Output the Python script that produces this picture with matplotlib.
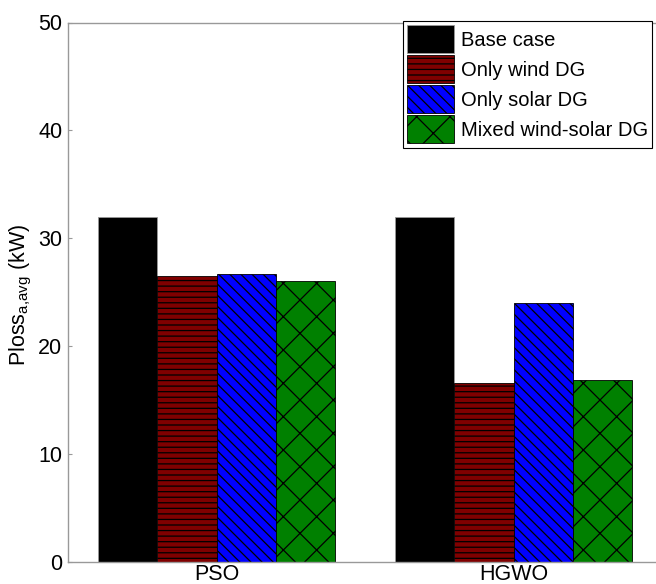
import matplotlib
matplotlib.use("Agg")
import matplotlib.pyplot as plt
import numpy as np

plt.rcParams['font.family'] = ['Liberation Sans', 'DejaVu Sans']
plt.rcParams['mathtext.fontset'] = 'custom'
plt.rcParams['mathtext.rm'] = 'Liberation Sans'
plt.rcParams['mathtext.it'] = 'Liberation Sans'
plt.rcParams['hatch.linewidth'] = 0.9

groups = ['PSO', 'HGWO']
series = ['Base case', 'Only wind DG', 'Only solar DG', 'Mixed wind-solar DG']
base_case = [32.0, 32.0]
only_wind = [26.5, 16.6]
only_solar = [26.7, 24.0]
mixed = [26.0, 16.8]
values = [base_case, only_wind, only_solar, mixed]
colors = ['#000000', '#800000', '#0000ff', '#008000']
hatches = [None, '---', '\\\\\\', 'x']
edgecols = ['#999999', 'black', 'black', 'black']

fig = plt.figure(figsize=(6.56, 5.84), dpi=100)
ax = fig.add_axes([68/656, 22.5/584, 594/656, 539/584])

x = np.arange(1, len(groups) + 1)
w = 0.2
for i, (vals, c, h, ec, lab) in enumerate(zip(values, colors, hatches, edgecols, series)):
    ax.bar(x + (i - 1.5) * w, vals, width=w, color=c, hatch=h, edgecolor=ec,
           linewidth=0.6, label=lab)

ax.set_xlim(0.5, 2.5)
ax.set_ylim(0, 50)
ax.set_yticks([0, 10, 20, 30, 40, 50])
ax.set_xticks(x)
ax.set_xticklabels(groups)
ax.tick_params(axis='y', direction='in', length=3, color='#999999', labelsize=15.5, pad=4)
ax.tick_params(axis='x', length=0, labelsize=15.5, pad=2)
for s in ['left', 'top', 'bottom', 'right']:
    ax.spines[s].set_color('#999999')
    ax.spines[s].set_linewidth(1.0)
ax.set_ylabel(r'Ploss$_{\mathrm{a{,}avg}}$ (kW)', fontsize=15.5)
ax.yaxis.set_label_coords(-0.058, 0.495)

leg = ax.legend(loc='upper left', bbox_to_anchor=(403/656, 1 - 21/584),
                bbox_transform=fig.transFigure, fontsize=14.5, frameon=True,
                fancybox=False, framealpha=1, edgecolor='black',
                handlelength=2.34, handleheight=1.77, labelspacing=0.1,
                handletextpad=0.35, borderpad=0.2, borderaxespad=0)
leg.get_frame().set_linewidth(0.8)

fig.savefig('out.png', dpi=100)
